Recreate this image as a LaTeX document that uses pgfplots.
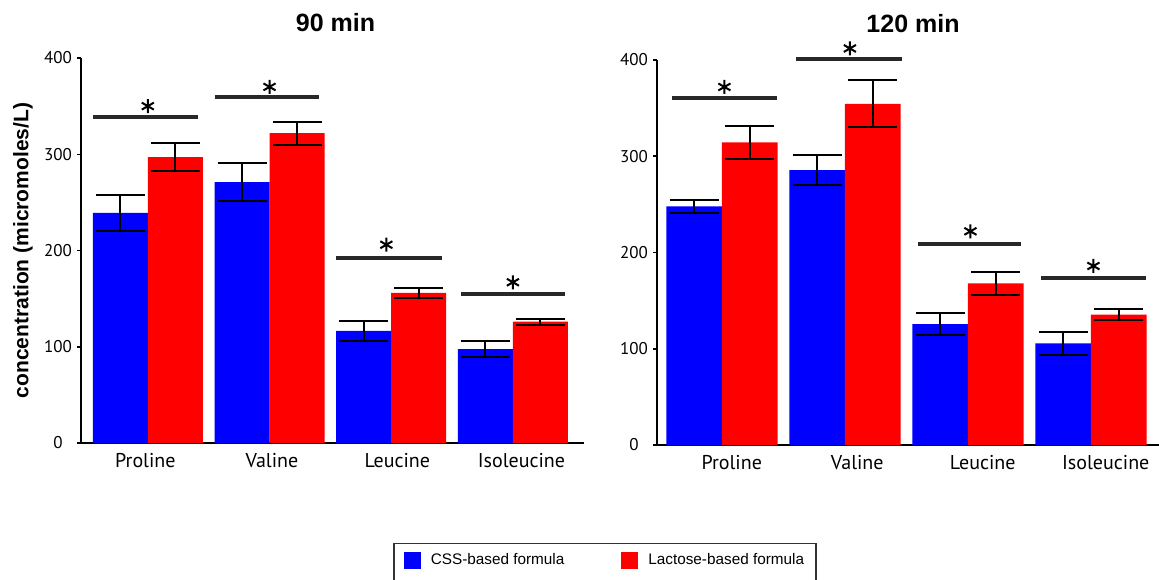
\documentclass[border=0pt]{standalone}
\usepackage{pgfplots}
\pgfplotsset{compat=1.18}
\usepackage{fontspec}
\setmainfont{Liberation Sans}
\newfontfamily\catfont{PT Sans}

\definecolor{myblue}{RGB}{0,0,255}
\definecolor{myred}{RGB}{255,0,0}
\definecolor{siggray}{RGB}{40,40,40}

\pgfplotsset{
  panel/.style={
    ybar, bar width=0.452,
    scale only axis, height=385pt,
    ymin=0, ymax=400, ytick={0,100,200,300,400},
    axis x line*=bottom, axis y line*=left,
    axis line style={line width=2pt, -, black},
    tick align=outside, major tick length=4pt,
    ytick style={line width=1.5pt, black},
    xtick style={draw=none},
    xticklabels={Proline,Valine,Leucine,Isoleucine},
    yticklabel style={font=\catfont\fontsize{17}{17}\selectfont, anchor=center, xshift=-19pt},
    xticklabel style={font=\catfont\fontsize{20}{20}\selectfont, anchor=north, yshift=-3pt},
    /pgf/number format/assume math mode=true,
    clip=false,
    title style={font=\bfseries\fontsize{25}{25}\selectfont, anchor=center, at={(axis description cs:0.5,1)}},
    legend image code/.code={\fill[#1,draw=none] (0pt,-8.5pt) rectangle (17pt,8.5pt); \path (25pt,-22pt);},
  },
  errs/.style={error bars/.cd, y dir=both, y explicit, error mark=|,
    error bar style={line width=2pt, black},
    error mark options={line width=2pt, mark size=24.5pt, black}},
  bluebar/.style={bar shift=-0.226, fill=myblue, draw=none, errs},
  redbar/.style={bar shift=0.226, fill=myred, draw=none, errs},
  sigline/.style={sharp plot, bar shift=0, mark=none, line width=4pt, siggray, forget plot},
  sigstar/.style={only marks, bar shift=0, mark=asterisk, mark size=7pt, black, line width=2pt, forget plot},
}

\begin{document}
\begin{tikzpicture}
\useasboundingbox (0,0) rectangle (1159pt,579pt);

% ---------- 90 min ----------
\begin{axis}[panel, at={(81pt,136pt)}, anchor=south west, width=503pt,
  xmin=-0.549, xmax=3.584,
  xtick={-0.02,1.02,2.05,3.07},
  title={90 min}, title style={yshift=29pt, xshift=3pt},
  ylabel={concentration (micromoles/L)},
  ylabel style={font=\bfseries\fontsize{21}{21}\selectfont, at={(axis description cs:-0.1153,0.5)}, anchor=center},
  legend style={at={(axis description cs:1.0417,-0.2597)}, anchor=north,
    legend columns=2, draw=black!80, line width=1.2pt,
    font=\fontsize{15.3}{15.3}\selectfont, inner xsep=10pt, inner ysep=8pt,
    /tikz/every even column/.append style={column sep=55pt}},
]
\addplot[bluebar] coordinates {
  (0,239) +- (0,19)
  (1,271) +- (0,19.5)
  (2,116.5) +- (0,10.5)
  (3,97.5) +- (0,8)
};
\addplot[redbar] coordinates {
  (0,297) +- (0,14.5)
  (1,322) +- (0,12)
  (2,156) +- (0,5.5)
  (3,126) +- (0,3)
};
\legend{CSS-based formula, Lactose-based formula}
\addplot[sigline] coordinates {(-0.45,339) (0.41,339)};
\addplot[sigline] coordinates {(0.55,359) (1.41,359)};
\addplot[sigline] coordinates {(1.55,192) (2.42,192)};
\addplot[sigline] coordinates {(2.57,155) (3.43,155)};
\addplot[sigstar] coordinates {(0,350) (1,370) (1.96,206) (3,167)};
\end{axis}

% ---------- 120 min ----------
\begin{axis}[panel, at={(657pt,134pt)}, anchor=south west, width=502pt,
  xmin=-0.528, xmax=3.553,
  xtick={0.08,1.1,2.12,3.12},
  title={120 min}, title style={yshift=30pt, xshift=5pt},
]
\addplot[bluebar] coordinates {
  (0,248) +- (0,7)
  (1,285.5) +- (0,15.5)
  (2,125.5) +- (0,11.5)
  (3,105.5) +- (0,12)
};
\addplot[redbar] coordinates {
  (0,314.5) +- (0,17)
  (1,354.5) +- (0,24.5)
  (2,168) +- (0,12)
  (3,135.5) +- (0,5.7)
};
\addplot[sigline] coordinates {(-0.41,360.6) (0.45,360.6)};
\addplot[sigline] coordinates {(0.6,400.7) (1.46,400.7)};
\addplot[sigline] coordinates {(1.59,208.6) (2.43,208.6)};
\addplot[sigline] coordinates {(2.59,173.7) (3.45,173.7)};
\addplot[sigstar] coordinates {(0.02,372) (1.04,412) (2.02,222) (3.02,186)};
\end{axis}
\end{tikzpicture}
\end{document}
